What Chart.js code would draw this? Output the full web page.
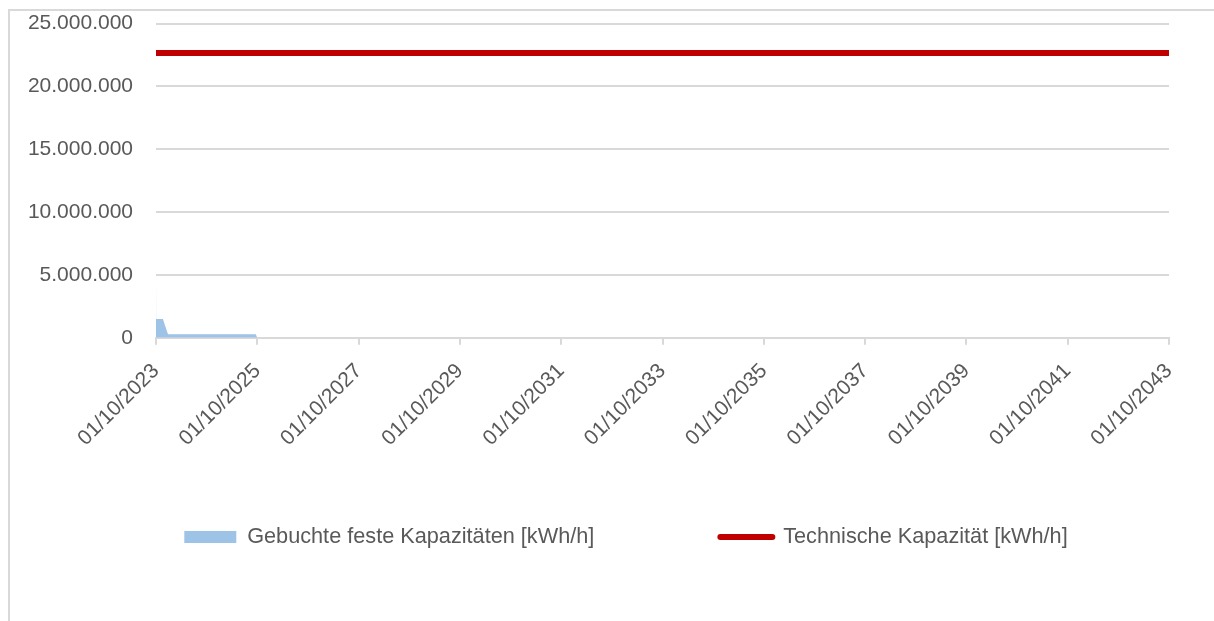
<!DOCTYPE html>
<html>
<head>
<meta charset="utf-8">
<script src="https://cdn.jsdelivr.net/npm/chart.js@4.4.1/dist/chart.umd.min.js"></script>
<style>
  html, body { margin: 0; padding: 0; background: #ffffff; overflow: hidden; }
  #frame { position: absolute; left: 8px; top: 9px; width: 2000px; height: 2000px;
           border-left: 2px solid #d9d9d9; border-top: 2px solid #d9d9d9; }
  #wrap { position: absolute; left: 0; top: 0; width: 1214px; height: 621px; }
</style>
</head>
<body>
<div id="frame"></div>
<div id="wrap"><canvas id="c" width="1214" height="621"></canvas></div>
<script>
// ---- data ----
const bookedLabel = 'Gebuchte feste Kapazitäten [kWh/h]';
const technicalLabel = 'Technische Kapazität [kWh/h]';

const bookedDates  = ['2023-10-01', '2023-10-02', '2023-11-20', '2023-12-27', '2025-09-20', '2025-10-01', '2043-10-01'];
const bookedValues = [5100000,      1500000,      1500000,      280000,       280000,       0,            0];

const technicalDates  = ['2023-10-01', '2043-10-01'];
const technicalValues = [22660000,     22660000];

const tickYears = [2023, 2025, 2027, 2029, 2031, 2033, 2035, 2037, 2039, 2041, 2043];
const yTicks = [0, 5000000, 10000000, 15000000, 20000000, 25000000];

// ---- helpers ----
const START_YEAR = 2023, START_MONTH = 10;
function toMonths(s) {
  const [y, m, d] = s.split('-').map(Number);
  const dim = new Date(y, m, 0).getDate();
  return (y - START_YEAR) * 12 + (m - START_MONTH) + (d - 1) / dim;
}
function fmtDE(v) {
  return String(Math.round(v)).replace(/\B(?=(\d{3})+(?!\d))/g, '.');
}

const FAMILY = '"Liberation Sans", Arial, sans-serif';
const FONT = { family: FAMILY, size: 21 };
const LEGEND_FONT = { family: FAMILY, size: 21.7 };
const LEGEND_PAD = 126;
const TXT = '#595959';
const GRID = '#d9d9d9';
const BLUE = '#9dc3e6';
const RED = '#c00000';

const xMin = toMonths(tickYears[0] + '-10-01');
const xMax = toMonths(tickYears[tickYears.length - 1] + '-10-01');

// moves the legend row to its place under the rotated axis labels
const legendPlace = {
  id: 'legendPlace',
  afterLayout(chart) {
    const l = chart.legend;
    if (!l) return;
    const targetCenter = 537, shiftX = 19;
    const dy = (l.top + LEGEND_PAD + LEGEND_FONT.size / 2) - targetCenter;
    l.top -= dy; l.bottom -= dy;
    l.left += shiftX; l.right += shiftX;
  }
};

new Chart(document.getElementById('c'), {
  type: 'line',
  plugins: [legendPlace],
  data: {
    datasets: [
      {
        label: bookedLabel,
        data: bookedDates.map((d, i) => ({ x: toMonths(d), y: bookedValues[i] })),
        backgroundColor: BLUE,
        borderColor: BLUE,
        borderWidth: 0,
        fill: 'origin',
        pointRadius: 0,
        tension: 0,
        order: 2
      },
      {
        label: technicalLabel,
        data: technicalDates.map((d, i) => ({ x: toMonths(d), y: technicalValues[i] })),
        borderColor: RED,
        backgroundColor: RED,
        borderWidth: 6,
        fill: false,
        pointRadius: 0,
        tension: 0,
        order: 1
      }
    ]
  },
  options: {
    responsive: false,
    animation: false,
    events: [],
    layout: { padding: { left: 0, right: 0, top: 23.5, bottom: 10.5 } },
    scales: {
      x: {
        type: 'linear',
        min: xMin,
        max: xMax,
        afterBuildTicks(scale) {
          scale.ticks = tickYears.map(y => ({ value: toMonths(y + '-10-01') }));
        },
        afterFit(scale) { scale.height = 115; },
        ticks: {
          autoSkip: false,
          maxRotation: 45,
          minRotation: 45,
          padding: 14,
          color: TXT,
          font: FONT,
          callback(v) { return '01/10/' + (START_YEAR + Math.round(v / 12)); }
        },
        grid: { drawOnChartArea: false, drawTicks: true, tickLength: 7, color: GRID, lineWidth: 2 },
        border: { display: true, color: GRID, width: 2 }
      },
      y: {
        min: yTicks[0],
        max: yTicks[yTicks.length - 1],
        afterBuildTicks(scale) { scale.ticks = yTicks.map(v => ({ value: v })); },
        afterFit(scale) { scale.width = 156; },
        ticks: {
          padding: 0,
          color: TXT,
          font: FONT,
          callback(v) { return fmtDE(v); }
        },
        grid: { color: GRID, lineWidth: 2, drawTicks: true, tickLength: 23, tickColor: 'rgba(0,0,0,0)' },
        border: { display: false }
      },
      y2: {
        position: 'right',
        display: true,
        afterFit(scale) { scale.width = 45; },
        ticks: { display: false },
        grid: { display: false, drawTicks: false },
        border: { display: false }
      }
    },
    plugins: {
      legend: {
        position: 'bottom',
        labels: {
          usePointStyle: true,
          pointStyleWidth: 52,
          boxHeight: 12,
          padding: LEGEND_PAD,
          color: TXT,
          font: LEGEND_FONT,
          generateLabels(chart) {
            return chart.data.datasets.map((ds, i) => i === 0 ? {
              text: ds.label, datasetIndex: i, pointStyle: 'rect',
              fillStyle: BLUE, strokeStyle: BLUE, lineWidth: 0, fontColor: TXT
            } : {
              text: ds.label, datasetIndex: i, pointStyle: 'line',
              fillStyle: RED, strokeStyle: RED, lineWidth: 6, lineCap: 'round', fontColor: TXT
            });
          }
        }
      },
      tooltip: { enabled: false }
    }
  }
});
</script>
</body>
</html>
